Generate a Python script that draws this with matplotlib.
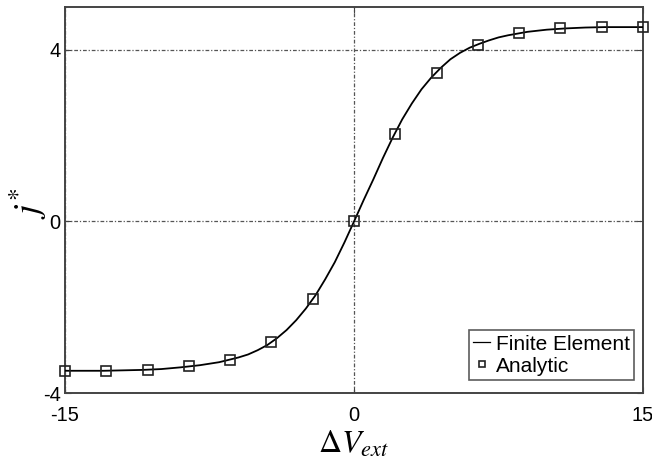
import matplotlib.pyplot as plt
import numpy as np

plt.rcParams['font.family'] = ['Liberation Sans', 'DejaVu Sans']
plt.rcParams['mathtext.fontset'] = 'stix'
plt.rcParams['axes.unicode_minus'] = False

# finite element solution (dense) and analytic solution (sampled)
fe_v = [-15, -14, -13, -12, -11, -10, -9, -8, -7, -6, -5.5, -5, -4.5, -4,
        -3.5, -3, -2.5, -2, -1.5, -1, -0.5, 0, 0.5, 1, 1.5, 2, 2.5, 3, 3.5,
        4, 4.5, 5, 5.5, 6, 6.5, 7, 7.5, 8, 9, 10, 11, 12, 13, 14, 15]
fe_j = [-3.48, -3.48, -3.48, -3.47, -3.46, -3.44, -3.40, -3.35, -3.28, -3.17,
        -3.10, -3.00, -2.88, -2.72, -2.53, -2.30, -2.03, -1.72, -1.35, -0.95,
        -0.49, 0.00, 0.50, 0.98, 1.48, 1.95, 2.38, 2.75, 3.08, 3.35, 3.58,
        3.78, 3.93, 4.05, 4.14, 4.22, 4.29, 4.34, 4.42, 4.47, 4.50, 4.52,
        4.53, 4.53, 4.53]

an_v = np.linspace(-15, 15, 15)
an_j = [-3.48, -3.48, -3.46, -3.38, -3.22, -2.81, -1.81, 0.00,
        2.04, 3.46, 4.12, 4.40, 4.50, 4.53, 4.53]

fig = plt.figure(figsize=(6.52, 4.63), dpi=100)
ax = fig.add_axes([0.0997, 0.151, 0.8866, 0.834])

ax.plot(fe_v, fe_j, color='black', lw=1.3, label='Finite Element', zorder=3)
ax.plot(an_v, an_j, ls='none', marker='s', ms=7.5, mfc='none', mec='#222222',
        mew=1.2, label='Analytic', zorder=4, clip_on=False)

ax.set_xlim(-15, 15)
ax.set_ylim(-4, 5)
ax.set_xticks([-15, 0, 15])
ax.set_yticks([-4, 0, 4])
ax.grid(True, color='#555555', lw=0.9, ls=(0, (3, 1.5, 1, 1.5)))
ax.tick_params(direction='in', top=True, right=True, length=4,
               labelsize=14.5, color='#444444')
ax.tick_params(axis='x', pad=9)
ax.tick_params(axis='y', pad=3)
for s in ax.spines.values():
    s.set_color('#444444')
    s.set_linewidth(1.4)

ax.set_xlabel(r'$\Delta V_{ext}$', fontsize=23)
ax.xaxis.set_label_coords(0.5, -0.095)
# y label placed by its centre so the rotated math text sits beside the ticks
fig.text(28 / 652, 1 - 203 / 463, r'$j^{*}$', fontsize=26, rotation=90,
         ha='center', va='center')

leg = ax.legend(loc='lower right', fontsize=15, frameon=True, fancybox=False,
                edgecolor='#333333', handlelength=0.8, handletextpad=0.3,
                borderpad=0.2, labelspacing=0.15, markerscale=0.5,
                borderaxespad=0, bbox_to_anchor=(0.985, 0.034))
leg.get_frame().set_linewidth(1.2)
leg.get_lines()[0].set_linewidth(0.9)

fig.savefig('out.png', dpi=100)
